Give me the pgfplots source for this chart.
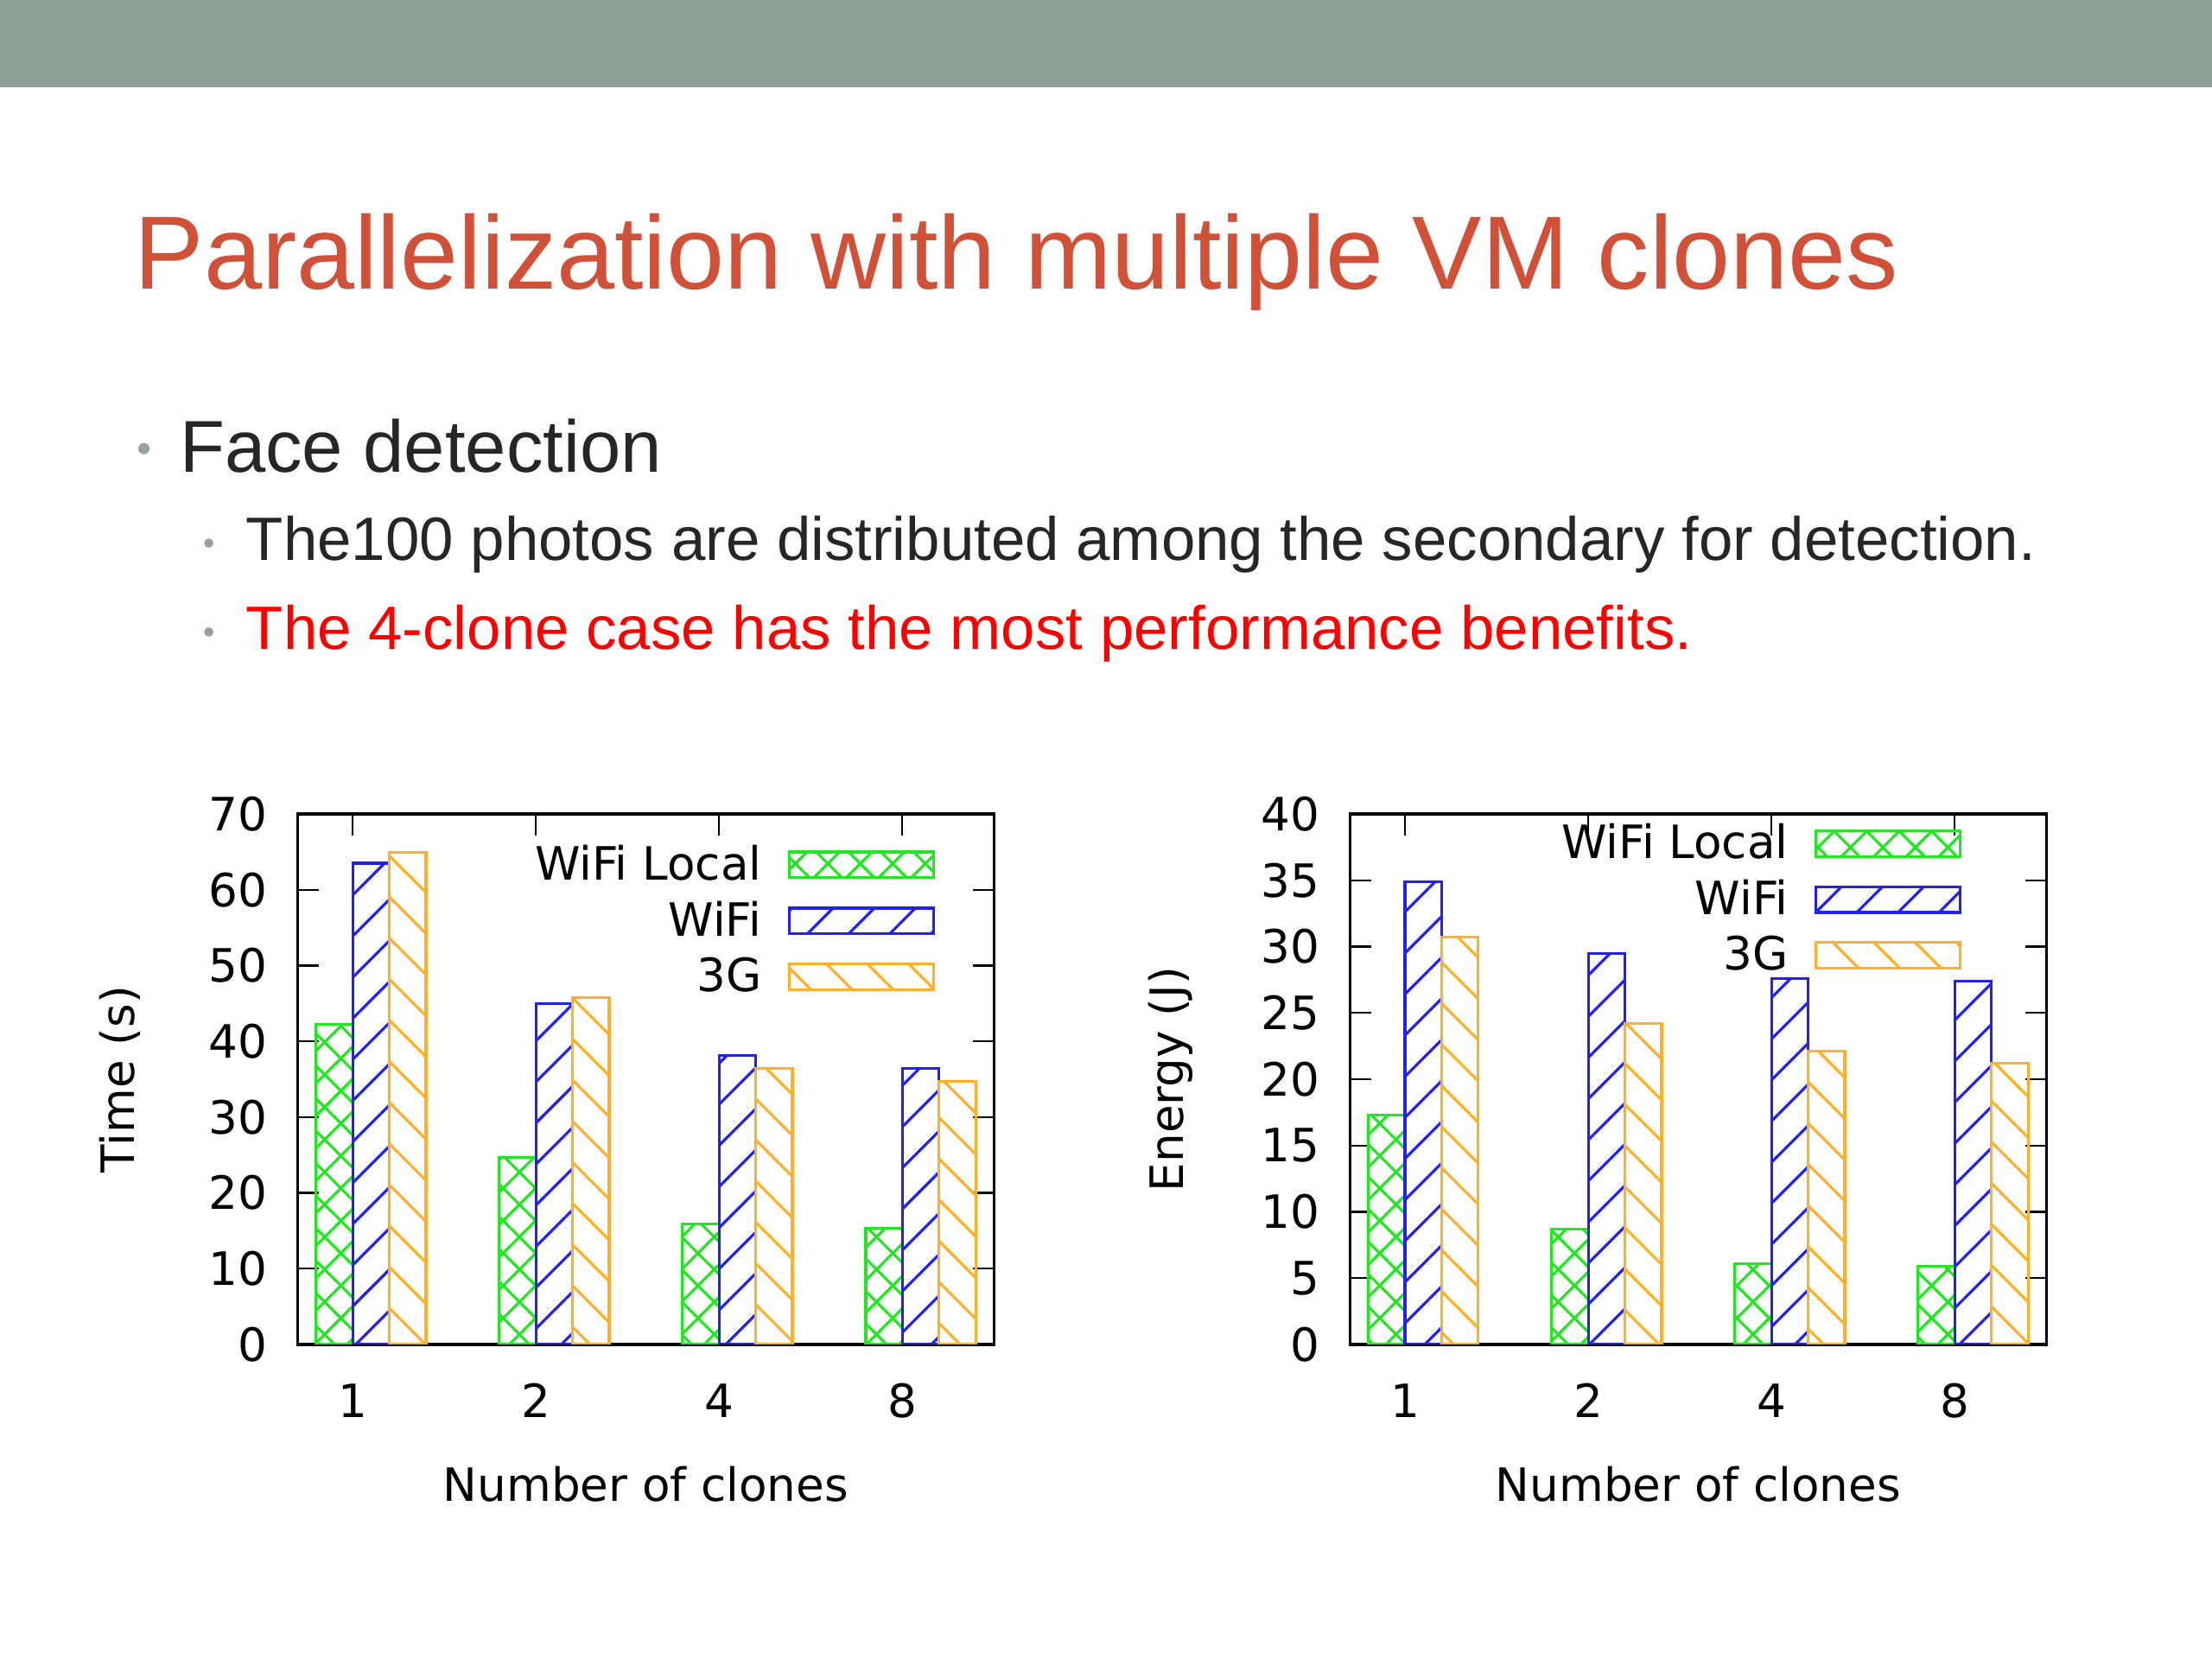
\documentclass[border=0pt]{standalone}
\usepackage{pgfplots}
\pgfplotsset{compat=1.18}
\usepackage{fontspec}
\setmainfont{DejaVu Sans}
\newfontfamily\slidefont{Liberation Sans}
\usetikzlibrary{patterns.meta}
\definecolor{bandgray}{RGB}{144,160,152}
\definecolor{titlered}{RGB}{208,80,56}
\definecolor{bulgray}{RGB}{150,162,156}
\definecolor{txtdark}{RGB}{38,38,38}
\definecolor{cgreen}{RGB}{34,230,34}
\definecolor{cblue}{RGB}{34,34,240}
\definecolor{corange}{RGB}{255,176,40}

\pgfplotsset{
  clonebar/.style={ybar, bar width=0.2, line width=0.9pt,
    legend image code/.code={\draw[##1, line width=0.9pt] (0pt,-4.2pt) rectangle (47pt,4.2pt);}},
  localbar/.style={clonebar, draw=cgreen, bar shift=-0.1,
    pattern={Hatch[angle=45,distance=7.5pt,line width=0.9pt]}, pattern color=cgreen},
  wifibar/.style={clonebar, draw=cblue, bar shift=0.1,
    pattern={Lines[angle=45,distance=9.5pt,line width=0.9pt]}, pattern color=cblue},
  tgbar/.style={clonebar, draw=corange, bar shift=0.3,
    pattern={Lines[angle=-45,distance=9.5pt,line width=0.9pt]}, pattern color=corange},
  slidechart/.style={
    scale only axis, width=227.5pt, height=173.3pt,
    xmin=-0.3, xmax=3.5, ymin=0,
    xtick={0,1,2,3}, xticklabels={1,2,4,8},
    tick align=inside, major tick length=7pt,
    axis line style={line width=0.9pt},
    every tick/.style={black, line width=0.6pt},
    label style={font=\fontsize{15}{18}\selectfont},
    ticklabel style={font=\fontsize{15}{18}\selectfont},
    /pgf/number format/assume math mode=true,
    xticklabel style={anchor=base, yshift=-24pt},
    yticklabel style={anchor=east, inner sep=0pt, xshift=-9.7pt},
    xlabel style={at={(axis description cs:0.5,-0.263)}, anchor=center},
    legend plot pos=right, legend cell align=right,
    legend style={draw=none, fill=none, anchor=north east, column sep=7.7pt,
      row sep=3.45pt, nodes={inner sep=1pt}, font=\fontsize{15}{18}\selectfont},
  }
}

\begin{document}
\begin{tikzpicture}
\begin{scope}[x=0.4609pt, y=-0.4609pt]
  \fill[white] (0,0) rectangle (1568,1176);
  \fill[bandgray] (0,0) rectangle (1568,62);
  \node[anchor=base west, inner sep=0pt, text=titlered,
        font=\slidefont\fontsize{34}{40}\selectfont] at (95,205)
        {Parallelization with multiple VM clones};
  \fill[bulgray] (102,318) circle (4);
  \node[anchor=base west, inner sep=0pt, text=txtdark,
        font=\slidefont\fontsize{24}{28}\selectfont] at (127,335) {Face detection};
  \fill[bulgray] (148,385) circle (3.3);
  \node[anchor=base west, inner sep=0pt, text=txtdark,
        font=\slidefont\fontsize{20}{24}\selectfont] at (174,397)
        {The100 photos are distributed among the secondary for detection.};
  \fill[bulgray] (148,448) circle (3.3);
  \node[anchor=base west, inner sep=0pt, text=red,
        font=\slidefont\fontsize{20}{24}\selectfont] at (174,460)
        {The 4-clone case has the most performance benefits.};
\end{scope}

\begin{axis}[slidechart, at={(97.25pt,-439.24pt)}, anchor=south west,
    ymax=70, ytick={0,10,...,70},
    ylabel={Time (s)}, xlabel={Number of clones},
    ylabel style={at={(axis description cs:-0.255,0.5)}, anchor=center},
    legend style={at={(axis description cs:0.929,0.960)}}]
  \addplot[localbar] coordinates {(0,42.2) (1,24.7) (2,15.9) (3,15.3)};
  \addplot[wifibar] coordinates {(0,63.5) (1,45.0) (2,38.1) (3,36.4)};
  \addplot[tgbar] coordinates {(0,64.9) (1,45.8) (2,36.4) (3,34.7)};
  \legend{WiFi Local, WiFi, 3G}
\end{axis}

\begin{axis}[slidechart, at={(441.08pt,-439.24pt)}, anchor=south west,
    ymax=40, ytick={0,5,...,40},
    ylabel={Energy (J)}, xlabel={Number of clones},
    ylabel style={at={(axis description cs:-0.257,0.5)}, anchor=center},
    legend style={at={(axis description cs:0.892,1.0)}}]
  \addplot[localbar] coordinates {(0,17.3) (1,8.7) (2,6.1) (3,5.9)};
  \addplot[wifibar] coordinates {(0,34.9) (1,29.5) (2,27.6) (3,27.4)};
  \addplot[tgbar] coordinates {(0,30.7) (1,24.2) (2,22.1) (3,21.2)};
  \legend{WiFi Local, WiFi, 3G}
\end{axis}
\end{tikzpicture}
\end{document}
